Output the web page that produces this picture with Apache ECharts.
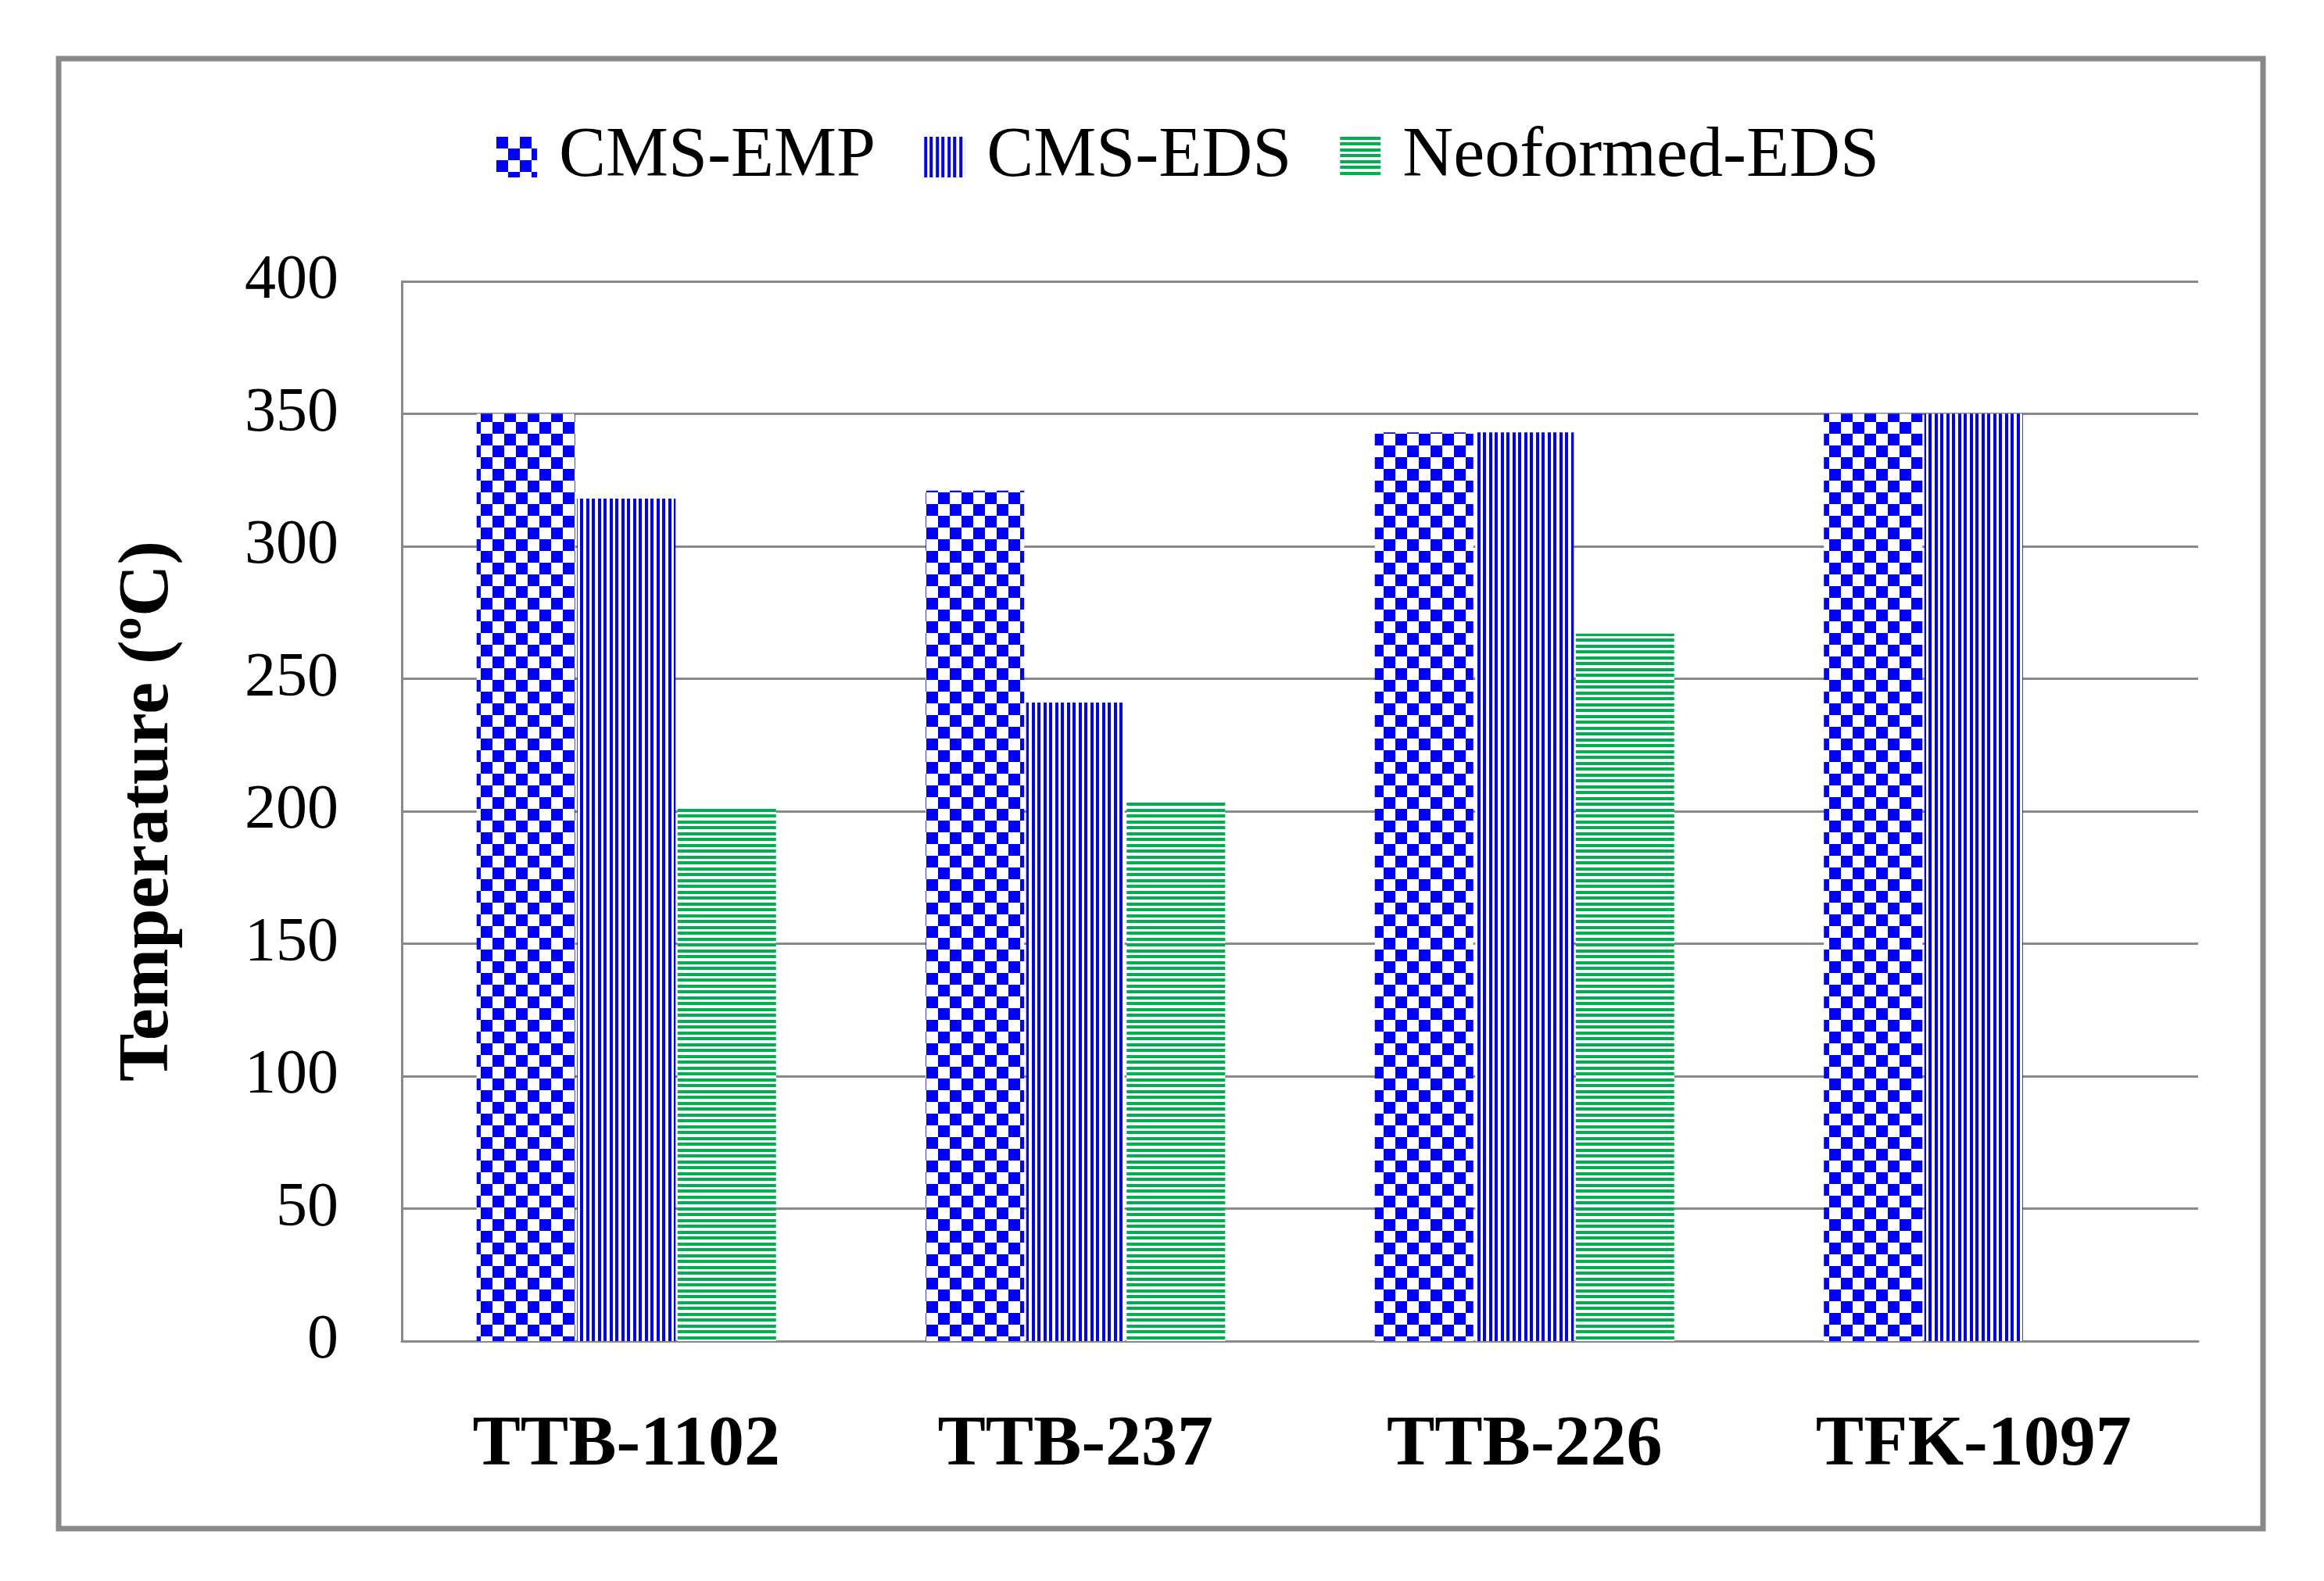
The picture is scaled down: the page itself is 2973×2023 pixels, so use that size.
<!DOCTYPE html>
<html>
<head>
<meta charset="utf-8">
<script src="https://cdn.jsdelivr.net/npm/echarts@6/dist/echarts.min.js"></script>
<style>
html,body{margin:0;padding:0;background:#fff;}
#chart{width:2973px;height:2023px;}
</style>
</head>
<body>
<div id="chart"></div>
<script>
const categories = ['TTB-1102', 'TTB-237', 'TTB-226', 'TFK-1097'];
const seriesNames = ['CMS-EMP', 'CMS-EDS', 'Neoformed-EDS'];
const cmsEmp = [350, 321, 343, 350];
const cmsEds = [318, 241, 343, 350];
const neoEds = [202, 204, 267, null];
const yTicks = { min: 0, max: 400, interval: 50 };

function makeTile(w, h, draw) {
  const c = document.createElement('canvas');
  c.width = w; c.height = h;
  const ctx = c.getContext('2d');
  ctx.fillStyle = '#ffffff';
  ctx.fillRect(0, 0, w, h);
  draw(ctx);
  return c;
}
const checker = makeTile(30, 30, ctx => {
  ctx.fillStyle = '#0000ff';
  ctx.fillRect(0, 0, 15, 15);
  ctx.fillRect(15, 15, 15, 15);
});
const vstripe = makeTile(15, 15, ctx => {
  ctx.fillStyle = '#0000ff';
  ctx.fillRect(0, 0, 4, 15);
  ctx.fillRect(7, 0, 4, 15);
});
const hstripe = makeTile(15, 15, ctx => {
  ctx.fillStyle = '#00b050';
  ctx.fillRect(0, 0, 15, 4);
  ctx.fillRect(0, 7, 15, 4);
});
const patterns = [checker, vstripe, hstripe];
const dataSets = [cmsEmp, cmsEds, neoEds];

const gray = '#898989';
const chart = echarts.init(document.getElementById('chart'), null, { renderer: 'canvas' });
chart.setOption({
  backgroundColor: '#ffffff',
  animation: false,
  graphic: [{
    type: 'rect',
    shape: { x: 75, y: 75, width: 2820, height: 1881 },
    style: { fill: 'none', stroke: gray, lineWidth: 7 },
    z: -1
  }],
  legend: {
    left: 630,
    top: 151,
    icon: 'rect',
    itemWidth: 52,
    itemHeight: 52,
    itemGap: 62,
    data: seriesNames,
    textStyle: {
      fontFamily: 'Liberation Serif',
      fontSize: 90,
      color: '#000',
      padding: [0, 0, 0, 23]
    }
  },
  grid: { left: 514, right: 161, top: 360, bottom: 307, containLabel: false },
  xAxis: {
    type: 'category',
    data: categories,
    axisTick: { show: false },
    axisLine: { show: true, lineStyle: { color: gray, width: 3 } },
    axisLabel: {
      margin: 88,
      fontFamily: 'Liberation Serif',
      fontWeight: 'bold',
      fontSize: 92,
      color: '#000'
    }
  },
  yAxis: {
    type: 'value',
    min: yTicks.min,
    max: yTicks.max,
    interval: yTicks.interval,
    name: 'Temperature (ºC)',
    nameLocation: 'middle',
    nameRotate: 90,
    nameGap: 278,
    nameTextStyle: {
      fontFamily: 'Liberation Serif',
      fontWeight: 'bold',
      fontSize: 92,
      color: '#000'
    },
    axisTick: { show: false },
    axisLine: { show: true, lineStyle: { color: gray, width: 3 } },
    splitLine: { show: true, lineStyle: { color: gray, width: 3 } },
    axisLabel: {
      margin: 81,
      fontFamily: 'Liberation Serif',
      fontSize: 80,
      color: '#000'
    }
  },
  series: seriesNames.map((name, i) => ({
    name: name,
    type: 'bar',
    data: dataSets[i],
    barWidth: 126,
    barGap: '2%',
    itemStyle: { color: { image: patterns[i], repeat: 'repeat' } }
  }))
});
</script>
</body>
</html>
